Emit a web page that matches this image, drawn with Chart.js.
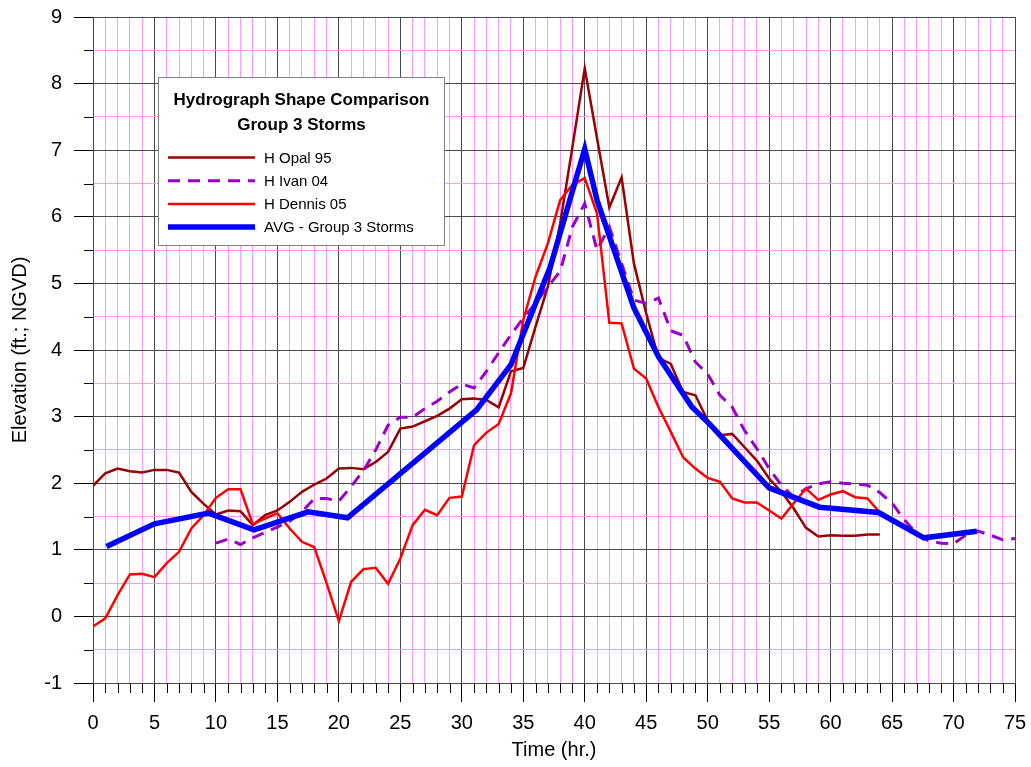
<!DOCTYPE html>
<html lang="en">
<head>
    <meta charset="UTF-8">
    <title>Hydrograph Shape Comparison - Group 3 Storms</title>
    <script src="https://cdn.jsdelivr.net/npm/chart.js"></script>
    <style>
        body {
            margin: 0;
            background-color: white;
        }
    </style>
</head>
<body>
    <canvas id="hydroChart" width="1031" height="767"></canvas>

    <script>
        // Hourly elevations (ft, NGVD); Opal and Dennis start at hour 0, Ivan at hour 10
        const opalStart = 0;
        const opalElev = [1.96, 2.15, 2.22, 2.18, 2.16, 2.20, 2.20, 2.16, 1.87, 1.69,
            1.53, 1.59, 1.58, 1.37, 1.52, 1.59, 1.72, 1.87, 1.98, 2.07,
            2.22, 2.23, 2.21, 2.32, 2.47, 2.82, 2.85, 2.93, 3.01, 3.12,
            3.26, 3.27, 3.25, 3.14, 3.68, 3.73, 4.35, 4.95, 5.90, 7.05,
            8.23, 7.18, 6.14, 6.59, 5.30, 4.55, 3.88, 3.79, 3.37, 3.32,
            2.94, 2.72, 2.74, 2.54, 2.34, 2.07, 1.87, 1.62, 1.33, 1.20,
            1.22, 1.21, 1.21, 1.23, 1.23];

        const ivanStart = 10;
        const ivanElev = [1.10, 1.16, 1.08, 1.18, 1.26, 1.34, 1.43, 1.57, 1.77, 1.77,
            1.73, 1.95, 2.19, 2.50, 2.87, 2.99, 2.99, 3.12, 3.23, 3.37,
            3.49, 3.43, 3.68, 3.96, 4.23, 4.48, 4.70, 4.95, 5.18, 5.85,
            6.20, 5.50, 5.85, 5.30, 4.75, 4.70, 4.78, 4.29, 4.22, 3.82,
            3.64, 3.32, 3.14, 2.79, 2.52, 2.22, 1.97, 1.79, 1.92, 1.99,
            2.02, 2.00, 1.99, 1.97, 1.86, 1.70, 1.45, 1.24, 1.13, 1.10,
            1.09, 1.22, 1.28, 1.22, 1.15, 1.17];

        const dennisStart = 0;
        const dennisElev = [-0.15, -0.03, 0.32, 0.63, 0.64, 0.59, 0.80, 0.97, 1.32, 1.52,
            1.78, 1.91, 1.91, 1.38, 1.47, 1.55, 1.32, 1.12, 1.04, 0.50,
            -0.07, 0.52, 0.71, 0.73, 0.49, 0.87, 1.37, 1.60, 1.52, 1.78,
            1.80, 2.57, 2.76, 2.89, 3.35, 4.45, 5.10, 5.60, 6.25, 6.48,
            6.58, 6.05, 4.41, 4.40, 3.72, 3.57, 3.14, 2.77, 2.39, 2.22,
            2.08, 2.02, 1.77, 1.71, 1.71, 1.59, 1.47, 1.70, 1.92, 1.75,
            1.83, 1.88, 1.79, 1.77, 1.56];

        // Average curve, irregular time steps
        const avgTime = [1.1, 5, 9.4, 13.1, 17.5, 20.7, 31.2, 34, 37.2, 40, 41, 44, 46, 48.7, 50.2, 55, 59.1, 63.9, 67.6, 71.9];
        const avgElev = [1.05, 1.39, 1.55, 1.30, 1.57, 1.48, 3.10, 3.78, 5.25, 7.02, 6.25, 4.63, 3.90, 3.15, 2.88, 1.93, 1.64, 1.56, 1.18, 1.28];

        const legendTitle = ['Hydrograph Shape Comparison', 'Group 3 Storms'];

        function hourly(start, values) {
            return values.map((v, i) => ({ x: start + i, y: v }));
        }

        const FONT = 'Arial, "Liberation Sans", sans-serif';

        // legend box drawn inside the plot, like the original
        const boxLegend = {
            id: 'boxLegend',
            afterDatasetsDraw(chart) {
                const ctx = chart.ctx;
                const bx = 158.5, by = 77.5, bw = 286, bh = 168;
                ctx.save();
                ctx.fillStyle = 'white';
                ctx.fillRect(bx, by, bw, bh);
                ctx.strokeStyle = '#808080';
                ctx.lineWidth = 1;
                ctx.strokeRect(bx, by, bw, bh);

                ctx.fillStyle = '#000';
                ctx.textAlign = 'center';
                ctx.textBaseline = 'middle';
                ctx.font = 'bold 17px ' + FONT;
                ctx.fillText(legendTitle[0], bx + bw / 2, 100);
                ctx.fillText(legendTitle[1], bx + bw / 2, 125);

                ctx.textAlign = 'left';
                ctx.font = '15px ' + FONT;
                chart.data.datasets.slice().reverse().forEach((ds, i) => {
                    const y = 157.5 + i * 23.2;
                    ctx.beginPath();
                    ctx.strokeStyle = ds.borderColor;
                    ctx.lineWidth = ds.borderWidth;
                    ctx.setLineDash(ds.borderDash || []);
                    ctx.moveTo(168, y);
                    ctx.lineTo(255, y);
                    ctx.stroke();
                    ctx.setLineDash([]);
                    ctx.fillText(ds.label, 264, y + 1);
                });
                ctx.restore();
            }
        };

        // short minor ticks outside the axes
        const minorTicks = {
            id: 'minorTicks',
            afterDraw(chart) {
                const ctx = chart.ctx;
                const xs = chart.scales.x, ys = chart.scales.y;
                ctx.save();
                ctx.strokeStyle = '#000';
                ctx.lineWidth = 1;
                ctx.beginPath();
                xs.ticks.forEach(t => {
                    if (t.value % 5 !== 0) {
                        const px = Math.round(xs.getPixelForValue(t.value)) + 0.5;
                        ctx.moveTo(px, ys.bottom);
                        ctx.lineTo(px, ys.bottom + 10);
                    }
                });
                ys.ticks.forEach(t => {
                    if (!Number.isInteger(t.value)) {
                        const py = Math.round(ys.getPixelForValue(t.value)) + 0.5;
                        ctx.moveTo(xs.left - 9, py);
                        ctx.lineTo(xs.left, py);
                    }
                });
                ctx.stroke();
                ctx.restore();
            }
        };

        const chart = new Chart(document.getElementById('hydroChart'), {
            type: 'line',
            data: {
                datasets: [
                    {
                        label: 'AVG - Group 3 Storms',
                        data: avgTime.map((t, i) => ({ x: t, y: avgElev[i] })),
                        borderColor: '#0000ff',
                        borderWidth: 5.5,
                        order: 0
                    },
                    {
                        label: 'H Dennis 05',
                        data: hourly(dennisStart, dennisElev),
                        borderColor: '#ff0000',
                        borderWidth: 2.5,
                        order: 1
                    },
                    {
                        label: 'H Ivan 04',
                        data: hourly(ivanStart, ivanElev),
                        borderColor: '#9900cc',
                        borderWidth: 3,
                        borderDash: [12, 8],
                        order: 2
                    },
                    {
                        label: 'H Opal 95',
                        data: hourly(opalStart, opalElev),
                        borderColor: '#990000',
                        borderWidth: 2.5,
                        order: 3
                    }
                ]
            },
            options: {
                responsive: false,
                animation: false,
                layout: { padding: { top: 17, right: 16, left: 0, bottom: 0 } },
                elements: {
                    point: { radius: 0 },
                    line: { tension: 0, fill: false }
                },
                plugins: {
                    legend: { display: false },
                    tooltip: { enabled: false }
                },
                scales: {
                    x: {
                        type: 'linear',
                        min: 0,
                        max: 75,
                        afterFit: s => {
                            s.height = 84;
                            s.paddingLeft = 0;
                            s.paddingRight = 0;
                        },
                        ticks: {
                            stepSize: 1,
                            autoSkip: false,
                            maxRotation: 0,
                            padding: 9,
                            color: '#000',
                            font: { family: FONT, size: 20 },
                            callback: v => (v % 5 === 0 ? v : '')
                        },
                        grid: {
                            color: c => (c.tick.value % 5 === 0 ? '#4a4a4a' : '#ff99ff'),
                            tickColor: c => (c.tick.value % 5 === 0 ? '#000' : 'rgba(0,0,0,0)'),
                            tickLength: 19,
                            lineWidth: 1
                        },
                        border: { color: '#4a4a4a' },
                        title: {
                            display: true,
                            text: 'Time (hr.)',
                            color: '#000',
                            font: { family: FONT, size: 20 },
                            padding: { top: 0, bottom: 5 }
                        }
                    },
                    y: {
                        min: -1,
                        max: 9,
                        afterFit: s => {
                            s.width = 93;
                            s.paddingTop = 0;
                            s.paddingBottom = 0;
                        },
                        ticks: {
                            stepSize: 0.5,
                            autoSkip: false,
                            padding: 12,
                            color: '#000',
                            font: { family: FONT, size: 20 },
                            callback: v => (Number.isInteger(v) ? v : '')
                        },
                        grid: {
                            color: c => (Number.isInteger(c.tick.value) ? '#4a4a4a' : '#ff99ff'),
                            tickColor: c => (Number.isInteger(c.tick.value) ? '#000' : 'rgba(0,0,0,0)'),
                            tickLength: 19,
                            lineWidth: 1
                        },
                        border: { color: '#4a4a4a' },
                        title: {
                            display: true,
                            text: 'Elevation (ft.; NGVD)',
                            color: '#000',
                            font: { family: FONT, size: 20 },
                            padding: { top: 8, bottom: 0 }
                        }
                    }
                }
            },
            plugins: [boxLegend, minorTicks]
        });
    </script>
</body>
</html>
